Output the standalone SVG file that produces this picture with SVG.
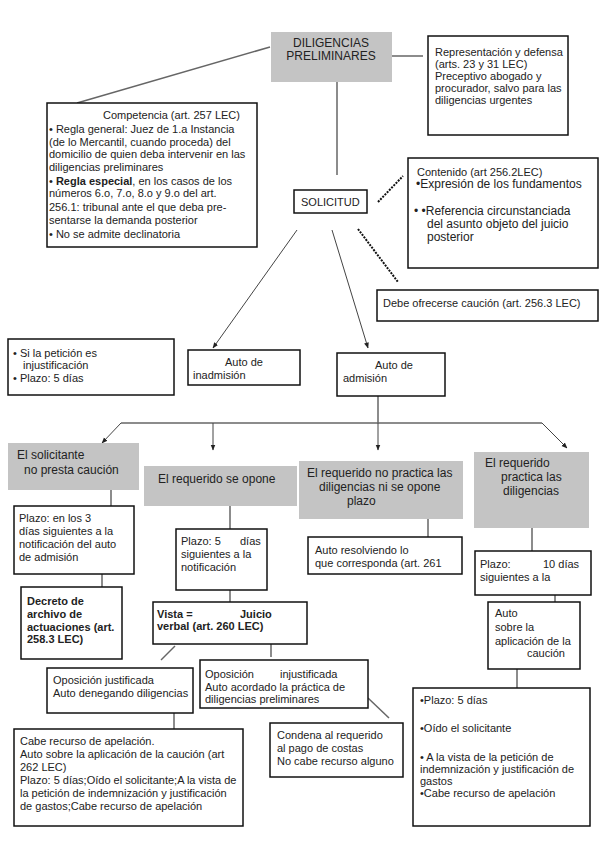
<svg xmlns="http://www.w3.org/2000/svg" width="600" height="848" viewBox="0 0 600 848">
<defs>
<marker id="ah" viewBox="0 0 10 10" refX="9" refY="5" markerWidth="6" markerHeight="6" markerUnits="userSpaceOnUse" orient="auto">
<path d="M0,1 L10,5 L0,9 z" fill="#222"/>
</marker>
</defs>
<style>
text{font-family:"Liberation Sans",Arial,sans-serif;font-size:11px;fill:#222}
.t12{font-size:12px}
.b{font-weight:bold}
.box{fill:#fff;stroke:#111;stroke-width:1.5}
.gray{fill:#c4c4c4;stroke:none}
.ln{stroke:#666;stroke-width:1.5;fill:none}
.arr{stroke:#444;stroke-width:1;fill:none;marker-end:url(#ah)}
.dot{stroke:#111;stroke-width:2;stroke-dasharray:2 1.2;fill:none}
.cont{font-size:12px;fill:#222}
</style>
<rect width="600" height="848" fill="#fff"/>
<g id="connectors">
<line class="ln" x1="270" y1="47" x2="77" y2="103"/>
<line class="ln" x1="392" y1="56" x2="423" y2="56"/>
<line class="ln" x1="337" y1="82" x2="337" y2="175"/>
<line class="dot" x1="378" y1="202" x2="403" y2="176"/>
<line class="dot" x1="358" y1="229" x2="398" y2="282"/>
<line class="arr" x1="297" y1="230" x2="213" y2="348"/>
<line class="arr" x1="332" y1="230" x2="368" y2="348"/>
<line class="ln" x1="121" y1="423" x2="542" y2="423"/>
<line class="ln" x1="378" y1="396" x2="378" y2="423"/>
<line class="arr" x1="378" y1="423" x2="378" y2="450"/>
<line class="arr" x1="121" y1="423" x2="102" y2="443"/>
<line class="arr" x1="213" y1="423" x2="213" y2="450"/>
<line class="arr" x1="542" y1="423" x2="567" y2="448"/>
<line class="ln" x1="111" y1="490" x2="111" y2="506"/>
<line class="ln" x1="230" y1="506" x2="230" y2="529"/>
<line class="ln" x1="428" y1="519" x2="428" y2="537"/>
<line class="ln" x1="532" y1="528" x2="532" y2="551"/>
<line class="ln" x1="102" y1="574" x2="102" y2="587"/>
<line class="ln" x1="230" y1="590" x2="230" y2="602"/>
<line class="ln" x1="555" y1="595" x2="555" y2="602"/>
<line class="ln" x1="175" y1="646" x2="161" y2="660"/>
<line class="ln" x1="271" y1="644" x2="271" y2="657"/>
<line class="ln" x1="174" y1="713" x2="174" y2="729"/>
<line class="ln" x1="368" y1="698" x2="389" y2="718"/>
<line class="ln" x1="517" y1="669" x2="517" y2="688"/>
</g>
<g id="diligencias">
<rect class="gray" x="271" y="32" width="121" height="50"/>
<text class="t12" x="331" y="47" text-anchor="middle">DILIGENCIAS</text>
<text class="t12" x="331" y="60" text-anchor="middle">PRELIMINARES</text>
</g>
<g id="representacion">
<rect class="box" x="428" y="36" width="140" height="99"/>
<text x="435" y="56">Representación y defensa</text>
<text x="435" y="68">(arts. 23 y 31 LEC)</text>
<text x="435" y="80">Preceptivo abogado y</text>
<text x="435" y="92">procurador, salvo para las</text>
<text x="435" y="104">diligencias urgentes</text>
</g>
<g id="competencia">
<rect class="box" x="47" y="103" width="210" height="144"/>
<text x="103" y="119">Competencia (art. 257 LEC)</text>
<text x="49" y="133">• Regla general: Juez de 1.a Instancia</text>
<text x="49" y="146">(de lo Mercantil, cuando proceda) del</text>
<text x="49" y="158">domicilio de quien deba intervenir en las</text>
<text x="49" y="171">diligencias preliminares</text>
<text x="49" y="185">• <tspan class="b">Regla especial</tspan>, en los casos de los</text>
<text x="49" y="197">números 6.o, 7.o, 8.o y 9.o del art.</text>
<text x="49" y="211">256.1: tribunal ante el que deba pre-</text>
<text x="49" y="224">sentarse la demanda posterior</text>
<text x="49" y="238">• No se admite declinatoria</text>
</g>
<g id="solicitud">
<rect class="box" x="294" y="190" width="73" height="23"/>
<text x="301" y="206">SOLICITUD</text>
</g>
<g id="contenido">
<rect class="box" x="408" y="158" width="190" height="110"/>
<text x="417" y="176">Contenido (art 256.2LEC)</text>
<text class="cont" x="416" y="188">•Expresión de los fundamentos</text>
<text class="cont" x="414" y="215">• •Referencia circunstanciada</text>
<text class="cont" x="427" y="228">del asunto objeto del juicio</text>
<text class="cont" x="427" y="241">posterior</text>
</g>
<g id="caucion">
<rect class="box" x="377" y="290" width="221" height="31"/>
<text x="383" y="307">Debe ofrecerse caución (art. 256.3 LEC)</text>
</g>
<g id="peticion">
<rect class="box" x="8" y="339" width="166" height="56"/>
<text x="13" y="357">•  Si la petición es</text>
<text x="23" y="369">injustificación</text>
<text x="13" y="382">•  Plazo: 5 días</text>
</g>
<g id="inadmision">
<rect class="box" x="188" y="350" width="112" height="35"/>
<text x="244" y="366" text-anchor="middle">Auto de</text>
<text x="193" y="379">inadmisión</text>
</g>
<g id="admision">
<rect class="box" x="337" y="353" width="108" height="43"/>
<text x="394" y="369" text-anchor="middle">Auto de</text>
<text x="343" y="382">admisión</text>
</g>
<g id="no-presta">
<rect class="gray" x="8" y="443" width="131" height="47"/>
<text class="t12" x="17" y="459">El solicitante</text>
<text class="t12" x="24" y="474">no presta caución</text>
</g>
<g id="plazo3">
<rect class="box" x="14" y="506" width="120" height="68"/>
<text x="19" y="522">Plazo: en los 3</text>
<text x="19" y="535">días siguientes a la</text>
<text x="19" y="548">notificación del auto</text>
<text x="19" y="561">de admisión</text>
</g>
<g id="decreto">
<rect class="box" x="21" y="587" width="101" height="72"/>
<text class="b" x="27" y="605">Decreto de</text>
<text class="b" x="27" y="618">archivo de</text>
<text class="b" x="27" y="631">actuaciones (art.</text>
<text class="b" x="27" y="643">258.3 LEC)</text>
</g>
<g id="se-opone">
<rect class="gray" x="144" y="466" width="153" height="40"/>
<text class="t12" x="158" y="483">El requerido se opone</text>
</g>
<g id="plazo5">
<rect class="box" x="176" y="529" width="91" height="61"/>
<text x="181" y="545">Plazo: 5</text>
<text x="240" y="545">días</text>
<text x="181" y="558">siguientes a la</text>
<text x="181" y="571">notificación</text>
</g>
<g id="vista">
<rect class="box" x="153" y="602" width="154" height="42"/>
<text class="b" x="157" y="618">Vista =</text>
<text class="b" x="240" y="618">Juicio</text>
<text class="b" x="157" y="630">verbal (art. 260 LEC)</text>
</g>
<g id="op-justificada">
<rect class="box" x="47" y="668" width="146" height="45"/>
<text x="53" y="684">Oposición justificada</text>
<text x="53" y="697">Auto denegando diligencias</text>
</g>
<g id="cabe-recurso">
<rect class="box" x="14" y="729" width="229" height="97"/>
<text x="20" y="745">Cabe recurso de apelación.</text>
<text x="20" y="758">Auto sobre la aplicación de la caución (art</text>
<text x="20" y="771">262 LEC)</text>
<text x="20" y="784">Plazo: 5 días;Oído el solicitante;A la vista de</text>
<text x="20" y="797">la petición de indemnización y justificación</text>
<text x="20" y="810">de gastos;Cabe recurso de apelación</text>
</g>
<g id="op-injustificada">
<rect class="box" x="200" y="660" width="168" height="48"/>
<text x="205" y="678">Oposición</text>
<text x="280" y="678">injustificada</text>
<text x="205" y="691">Auto acordado la práctica de</text>
<text x="205" y="703">diligencias preliminares</text>
</g>
<g id="condena">
<rect class="box" x="270" y="723" width="133" height="54"/>
<text x="277" y="739">Condena al requerido</text>
<text x="277" y="752">al pago de costas</text>
<text x="277" y="765">No cabe recurso alguno</text>
</g>
<g id="no-practica">
<rect class="gray" x="299" y="461" width="164" height="58"/>
<text class="t12" x="307" y="477">El requerido no practica las</text>
<text class="t12" x="319" y="491">diligencias ni se opone</text>
<text class="t12" x="347" y="505">plazo</text>
</g>
<g id="auto-resolviendo">
<rect class="box" x="308" y="537" width="154" height="37"/>
<text x="315" y="554">Auto resolviendo lo</text>
<text x="315" y="567">que corresponda (art. 261</text>
</g>
<g id="practica">
<rect class="gray" x="474" y="452" width="115" height="76"/>
<text class="t12" x="485" y="467">El requerido</text>
<text class="t12" x="501" y="481">practica las</text>
<text class="t12" x="503" y="495">diligencias</text>
</g>
<g id="plazo10">
<rect class="box" x="475" y="551" width="116" height="44"/>
<text x="480" y="568">Plazo:</text>
<text x="543" y="568">10 días</text>
<text x="480" y="581">siguientes a la</text>
</g>
<g id="auto-sobre">
<rect class="box" x="488" y="602" width="92" height="67"/>
<text x="495" y="617">Auto</text>
<text x="495" y="631">sobre la</text>
<text x="495" y="645">aplicación de la</text>
<text x="527" y="657">caución</text>
</g>
<g id="plazo-final">
<rect class="box" x="413" y="688" width="177" height="138"/>
<text x="420" y="704">•Plazo: 5 días</text>
<text x="420" y="732">•Oído el solicitante</text>
<text x="420" y="761">• A la vista de la petición de</text>
<text x="420" y="773">indemnización y justificación de</text>
<text x="420" y="785">gastos</text>
<text x="420" y="797">•Cabe recurso de apelación</text>
</g>
</svg>
